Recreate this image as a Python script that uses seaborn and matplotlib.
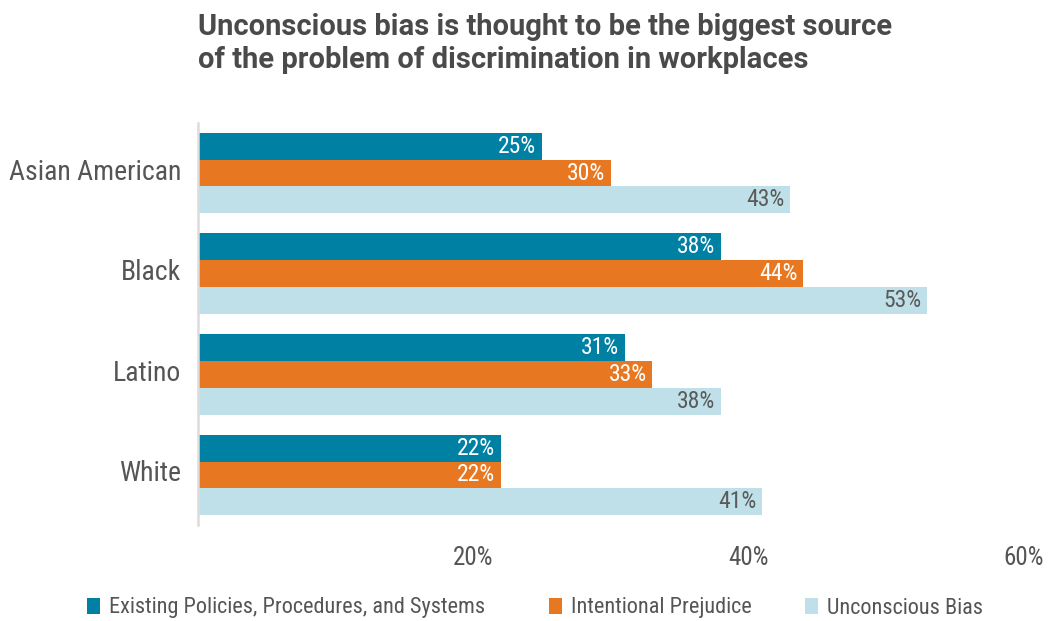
import matplotlib
matplotlib.use("Agg")
import matplotlib.pyplot as plt
from matplotlib import font_manager
from matplotlib.patches import Patch
from matplotlib.transforms import ScaledTranslation
import seaborn as sns
import pandas as pd

categories = ["Asian American", "Black", "Latino", "White"]
series_names = ["Existing Policies, Procedures, and Systems", "Intentional Prejudice", "Unconscious Bias"]
existing = [25, 38, 31, 22]
intentional = [30, 44, 33, 22]
unconscious = [43, 53, 38, 41]
x_ticks = [20, 40, 60]
x_tick_labels = ["20%", "40%", "60%"]
title = "Unconscious bias is thought to be the biggest source\nof the problem of discrimination in workplaces"

colors = ["#0080A3", "#E87722", "#BFE0E8"]
label_colors = ["white", "white", "#5a5a5a"]
text_gray = "#555555"
title_gray = "#4a4a4a"

sns.set_theme(style="white")

def pick(names):
    for n in names:
        try:
            font_manager.findfont(n, fallback_to_default=False)
            return n
        except Exception:
            pass
    return "DejaVu Sans"

fam = pick(["Liberation Sans Narrow", "Roboto Condensed", "Roboto", "DejaVu Sans"])
title_fam = pick(["Roboto", "DejaVu Sans"])
plt.rcParams["font.family"] = [fam, "DejaVu Sans"]

df = pd.DataFrame({
    "category": categories * 3,
    "series": [series_names[0]] * 4 + [series_names[1]] * 4 + [series_names[2]] * 4,
    "value": existing + intentional + unconscious,
})

fig = plt.figure(figsize=(10.54, 6.21), dpi=100)
ax = fig.add_axes([198 / 1054, 1 - 525.3 / 621, (1023.6 - 198) / 1054, (525.3 - 122.7) / 621])

sns.barplot(data=df, y="category", x="value", hue="series", order=categories,
            hue_order=series_names, palette=colors, orient="h", width=0.8,
            saturation=1, ax=ax, legend=False, linewidth=0)

ax.set_xlim(0, 60)
ax.set_ylim(3.5, -0.5)
ax.set_xlabel("")
ax.set_ylabel("")
ax.set_xticks(x_ticks)
ax.set_xticklabels(x_tick_labels, fontsize=18, color=text_gray)
ax.tick_params(axis="x", length=0, pad=15)
ax.tick_params(axis="y", length=0, pad=12)
up = ScaledTranslation(0, 4 / 100, fig.dpi_scale_trans)
for t in ax.get_yticklabels():
    t.set_fontsize(20)
    t.set_color(text_gray)
    t.set_transform(t.get_transform() + up)
for s in ["top", "right", "bottom"]:
    ax.spines[s].set_visible(False)
ax.spines["left"].set_color("#dcdcdc")
ax.spines["left"].set_linewidth(1.8)
ax.grid(False)

vals = [existing, intentional, unconscious]
for i, cont in enumerate(ax.containers):
    texts = ax.bar_label(cont, labels=[f"{v}%" for v in vals[i]], padding=-4,
                         fontsize=17, color=label_colors[i])
    for t in texts:
        t.set_ha("right")

fig.text(198 / 1054, 1 - 13 / 621, title, fontsize=21, fontweight="bold",
         color=title_gray, ha="left", va="top", linespacing=1.25, family=[title_fam, "DejaVu Sans"])

legend_x = [87, 549, 805]
for i, name in enumerate(series_names):
    fig.legend(handles=[Patch(facecolor=colors[i], edgecolor="none")], labels=[name],
               loc="center left", bbox_to_anchor=(legend_x[i] / 1054, 1 - 608 / 621),
               frameon=False, fontsize=16, handlelength=0.6, handleheight=0.75,
               handletextpad=0.4, borderpad=0, borderaxespad=0, labelcolor=text_gray)

fig.savefig("out.png", dpi=100)
